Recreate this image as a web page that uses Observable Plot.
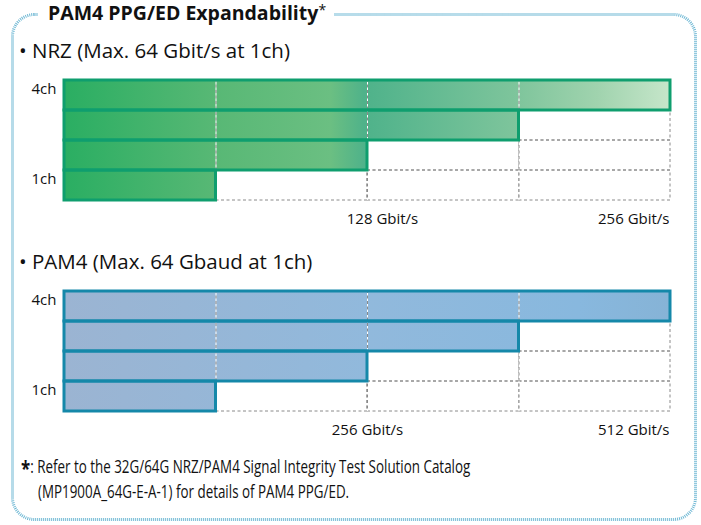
<!DOCTYPE html>
<html>
<head>
<meta charset="utf-8">
<script src="https://cdn.jsdelivr.net/npm/d3@7"></script>
<script src="https://cdn.jsdelivr.net/npm/@observablehq/plot@0.6"></script>
<style>
  html, body { margin: 0; padding: 0; background: #fff; }
  #wrap { position: relative; width: 701px; height: 525px; overflow: hidden; font-family: "Open Sans", sans-serif; color: #111; }
  #border { position: absolute; left: 0; top: 0; }
  .title { position: absolute; left: 38px; top: 0px; background: #fff; padding: 0 8px 0 10px; font-weight: 700; font-size: 19.5px; line-height: 26px; white-space: nowrap; }
  .title sup { font-weight: 400; font-size: 14px; vertical-align: 5px; line-height: 0; }
  .bullet { position: absolute; left: 19px; font-size: 20.5px; line-height: 26px; white-space: nowrap; }
  .chart { position: absolute; left: 0; }
  .foot { position: absolute; left: 21px; font-size: 17.5px; line-height: 24px; white-space: nowrap; transform-origin: 0 50%; transform: scaleX(0.765); }
  .foot b { font-size: 22px; font-weight: 700; vertical-align: -3px; line-height: 0; }
</style>
</head>
<body>
<div id="wrap">
  <svg id="border" width="701" height="525"></svg>
  <div class="title">PAM4 PPG/ED Expandability<sup>*</sup></div>
  <div class="bullet" style="top:37px">• NRZ (Max. 64 Gbit/s at 1ch)</div>
  <div class="chart" id="c1" style="top:70px"></div>
  <div class="bullet" style="top:248px">• PAM4 (Max. 64 Gbaud at 1ch)</div>
  <div class="chart" id="c2" style="top:281px"></div>
  <div class="foot" style="top:454px"><b>*</b>: Refer to the 32G/64G NRZ/PAM4 Signal Integrity Test Solution Catalog</div>
  <div class="foot" style="top:479px; left:38px">(MP1900A_64G-E-A-1) for details of PAM4 PPG/ED.</div>
</div>
<script>
// ---- data ----
const rows = ["1ch", "2ch", "3ch", "4ch"];
const yTickLabels = ["1ch", "4ch"];
const nrzValues = [64, 128, 192, 256];      // Gbit/s per channel count
const pam4Values = [128, 256, 384, 512];    // Gbit/s per channel count
const nrzTicks = [128, 256];
const nrzTickLabels = ["128 Gbit/s", "256 Gbit/s"];
const pam4Ticks = [256, 512];
const pam4TickLabels = ["256 Gbit/s", "512 Gbit/s"];

// border
(function () {
  const svg = d3.select("#border");
  svg.append("rect")
    .attr("x", 12.5).attr("y", 14.5).attr("width", 683).attr("height", 505)
    .attr("rx", 22).attr("ry", 22)
    .attr("fill", "none").attr("stroke", "#6fb8d4").attr("stroke-width", 3)
    .attr("stroke-dasharray", "1 1");
})();

function gradientMark(id, stops) {
  return (index, scales, values, dimensions) => {
    const x0 = dimensions.marginLeft;
    const x1 = dimensions.width - dimensions.marginRight;
    const defs = d3.create("svg:defs");
    const g = defs.append("linearGradient").attr("id", id)
      .attr("gradientUnits", "userSpaceOnUse")
      .attr("x1", x0).attr("x2", x1).attr("y1", 0).attr("y2", 0);
    for (const [o, c] of stops) g.append("stop").attr("offset", o).attr("stop-color", c);
    return defs.node();
  };
}

function makeChart(values, ticks, tickLabels, midDx, gradId, stops, stroke) {
  const data = rows.map((r, i) => ({row: r, value: values[i]}));
  const max = d3.max(values);
  const edges = [0, ...values];
  const cells = [];
  for (const r of rows) for (let i = 0; i < values.length; i++) cells.push({row: r, a: edges[i], b: edges[i + 1]});
  const inner = values.slice(0, -1);
  const labels = ticks.map((t, i) => ({t, label: tickLabels[i], last: i === ticks.length - 1}));
  return Plot.plot({
    width: 701,
    height: 165,
    marginTop: 9,
    marginBottom: 35,
    marginLeft: 64,
    marginRight: 31,
    x: {domain: [0, max], axis: null},
    y: {domain: [...rows].reverse(), padding: 0, axis: null},
    style: {fontFamily: "Open Sans, sans-serif", fontSize: "15px", color: "#111", background: "transparent", overflow: "visible"},
    marks: [
      gradientMark(gradId, stops),
      Plot.barX(cells, {x1: "a", x2: "b", y: "row", fill: "none", stroke: "#8a8a8a", strokeWidth: 1, strokeDasharray: "3,2.5"}),
      Plot.barX(data, {x: "value", y: "row", fill: `url(#${gradId})`}),
      Plot.ruleX(inner, {stroke: "white", strokeWidth: 1}),
      Plot.ruleX(inner, {stroke: "#8a8a8a", strokeWidth: 1, strokeDasharray: "3,2.5"}),
      Plot.barX(data, {x: "value", y: "row", fill: "none", stroke, strokeWidth: 3}),
      Plot.axisY({ticks: yTickLabels, tickSize: 0, tickPadding: 8, dy: -6, fontSize: 15, label: null}),
      Plot.text(labels.filter(d => !d.last), {x: "t", text: "label", frameAnchor: "bottom", dy: 23, dx: midDx, fontSize: 15}),
      Plot.text(labels.filter(d => d.last), {x: "t", text: "label", frameAnchor: "bottom", dy: 23, dx: -1, textAnchor: "end", fontSize: 15})
    ]
  });
}

const greenStops = [
  [0, "#2aae62"], [0.25, "#58b875"], [0.44, "#6bbf82"], [0.495, "#4fb28a"],
  [0.52, "#53b48c"], [0.75, "#7fc59c"], [0.88, "#a0d3ae"], [1, "#c6e6ca"]
];
const blueStops = [
  [0, "#9bb4d2"], [0.5, "#91b9dc"], [0.85, "#88b8de"], [1, "#86b3d6"]
];

document.getElementById("c1").append(makeChart(nrzValues, nrzTicks, nrzTickLabels, 15, "gNRZ", greenStops, "#0f9e6e"));
document.getElementById("c2").append(makeChart(pam4Values, pam4Ticks, pam4TickLabels, 0, "gPAM4", blueStops, "#1588a9"));
</script>
</body>
</html>
